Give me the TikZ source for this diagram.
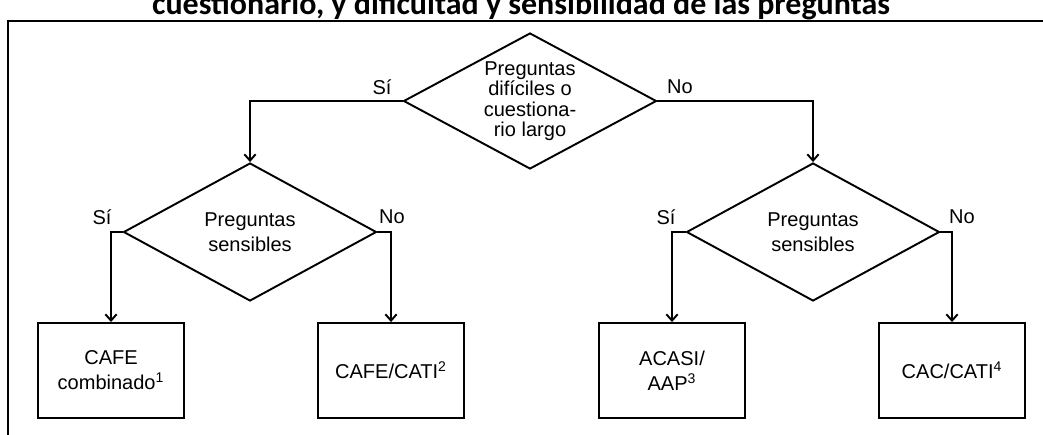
\documentclass[tikz,border=0pt]{standalone}
\usepackage{fontspec}
\setmainfont{Liberation Sans}
\newfontfamily\titlefont{Carlito}
\usetikzlibrary{positioning,shapes.geometric,arrows.meta}
\newcommand{\boxfont}{\fontsize{11.4}{14.3}\selectfont}
\newcommand{\tightfont}{\fontsize{11.4}{11.6}\selectfont}
\tikzset{
  decnode/.style={draw,diamond,line width=1.1pt,inner sep=0pt,
    minimum width=5.06cm,minimum height=2.72cm},
  decl/.style={align=center,inner sep=0pt,font=\boxfont},
  resnode/.style={draw,rectangle,line width=1.1pt,inner sep=2pt,
    minimum width=2.92cm,minimum height=1.9cm,align=center,font=\boxfont},
  flowline/.style={line width=1.1pt,-{Straight Barb[length=3.6pt,width=6.4pt]}},
  framebox/.style={line width=1.1pt},
  lbl/.style={inner sep=0pt,font=\boxfont},
  titletext/.style={anchor=base,inner sep=0pt,
    font=\titlefont\bfseries\fontsize{18.2}{20}\selectfont},
}
\begin{document}
\begin{tikzpicture}[x=0.02cm,y=-0.02cm]
  \useasboundingbox (0,0) rectangle (1043,434);
  \clip (0,0) rectangle (1043,434);
  % title, cut by the page edge
  \node[titletext] (ttl) at (521,14) {cuestionario, y dificultad y sensibilidad de las preguntas};
  \draw[framebox] (8,21) rectangle (1070,460);
  % decisions
  \node[decnode,label={[decl,font=\tightfont]center:Preguntas\\difíciles o\\cuestiona-\\rio largo}] (qlong) at (530,101) {};
  \node[decnode,minimum height=2.76cm,label={[decl]center:Preguntas\\sensibles}] (qsensL) at (250,232) {};
  \node[decnode,minimum height=2.76cm,label={[decl]center:Preguntas\\sensibles}] (qsensR) at (813,232) {};
  % outcomes
  \node[resnode] (cafec) at (111,370.5) {CAFE\\combinado\textsuperscript{1}};
  \node[resnode] (cafecati) at (391,370.5) {CAFE/CATI\textsuperscript{2}};
  \node[resnode] (acasi) at (672,370.5) {ACASI/\\AAP\textsuperscript{3}};
  \node[resnode] (caccati) at (952,370.5) {CAC/CATI\textsuperscript{4}};
  % answers
  \node[lbl] (siA) at (382,87) {Sí};
  \node[lbl] (noA) at (680,87) {No};
  \node[lbl] (siB) at (102,217) {Sí};
  \node[lbl] (noB) at (392,217) {No};
  \node[lbl] (siC) at (666,217) {Sí};
  \node[lbl] (noC) at (962,217) {No};
  % connectors
  \draw[flowline] (qlong.west) -| (qsensL.north);
  \draw[flowline] (qlong.east) -| (qsensR.north);
  \draw[flowline] (qsensL.west) -| (cafec.north);
  \draw[flowline] (qsensL.east) -| (cafecati.north);
  \draw[flowline] (qsensR.west) -| (acasi.north);
  \draw[flowline] (qsensR.east) -| (caccati.north);
\end{tikzpicture}
\end{document}
